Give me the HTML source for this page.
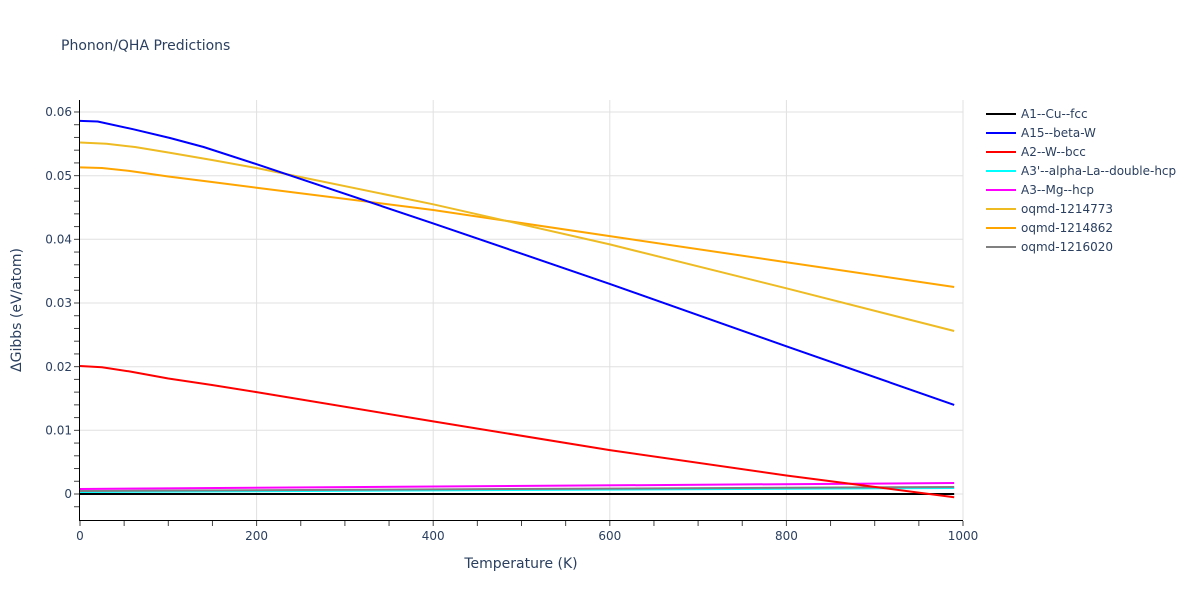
<!DOCTYPE html>
<html><head><meta charset="utf-8"><style>
body{margin:0;background:#fff;}
svg{font-family:"DejaVu Sans",sans-serif;}
</style></head><body>
<svg width="1200" height="600" xmlns="http://www.w3.org/2000/svg">
<rect width="1200" height="600" fill="#fff"/>
<text x="61" y="50" font-size="14" fill="#2a3f5f">Phonon/QHA Predictions</text>
<g stroke="#e0e0e0" stroke-width="1">
<line x1="256.6" y1="100" x2="256.6" y2="520"/>
<line x1="433.2" y1="100" x2="433.2" y2="520"/>
<line x1="609.8" y1="100" x2="609.8" y2="520"/>
<line x1="786.4" y1="100" x2="786.4" y2="520"/>
<line x1="963" y1="100" x2="963" y2="520"/>
<line x1="80" y1="494" x2="963" y2="494"/>
<line x1="80" y1="430.3" x2="963" y2="430.3"/>
<line x1="80" y1="366.7" x2="963" y2="366.7"/>
<line x1="80" y1="303" x2="963" y2="303"/>
<line x1="80" y1="239.3" x2="963" y2="239.3"/>
<line x1="80" y1="175.7" x2="963" y2="175.7"/>
<line x1="80" y1="112" x2="963" y2="112"/>
</g>
<g fill="none" stroke-width="2" stroke-linejoin="round">
<polyline stroke="#000" points="80,494 954.2,494"/>
<polyline stroke="#00ffff" points="80,492 954.2,488"/>
<polyline stroke="#808080" points="80,491 954.2,487"/>
<polyline stroke="#ff00ff" points="80,489 954.2,483"/>
<polyline stroke="#ff0000" points="80,366 102,367.3 130,371.5 168.3,378.5 212,385 256.6,392.1 433.2,421.4 609.8,450.1 786.4,475.5 954.2,497.2"/>
<polyline stroke="#ffa500" points="80,167.4 102,168 130,171 168.3,176.5 212,182 256.6,187.7 433.2,210 609.8,236.1 786.4,262.2 954.2,287"/>
<polyline stroke="#eebb22" points="80,142.5 106.5,143.8 135,147 168.3,152.5 212,160 256.6,168 433.2,204.3 609.8,244.4 786.4,288.3 954.2,331"/>
<polyline stroke="#0000ff" points="80,120.9 97.7,121.5 133,129.2 170,138 203.6,147 256.6,164.2 433.2,223.4 609.8,283.9 786.4,346.3 954.2,404.9"/>
</g>
<g stroke="#000" stroke-width="1">
<line x1="79.5" y1="100" x2="79.5" y2="520"/>
<line x1="79" y1="520.5" x2="963" y2="520.5"/>
</g>
<g stroke="#444" stroke-width="1" id="yt"></g>
<g stroke="#444" stroke-width="1" id="xt"></g>
<g font-size="12" fill="#2a3f5f" text-anchor="end">
<text x="72" y="498">0</text>
<text x="72" y="434.5">0.01</text>
<text x="72" y="370.8">0.02</text>
<text x="72" y="307.2">0.03</text>
<text x="72" y="243.5">0.04</text>
<text x="72" y="179.8">0.05</text>
<text x="72" y="116.2">0.06</text>
</g>
<g font-size="12" fill="#2a3f5f" text-anchor="middle">
<text x="80" y="540">0</text>
<text x="256.6" y="540">200</text>
<text x="433.2" y="540">400</text>
<text x="609.8" y="540">600</text>
<text x="786.4" y="540">800</text>
<text x="963" y="540">1000</text>
</g>
<text x="521" y="568" font-size="14" fill="#2a3f5f" text-anchor="middle">Temperature (K)</text>
<text transform="translate(21,310) rotate(-90)" font-size="14" fill="#2a3f5f" text-anchor="middle">ΔGibbs (eV/atom)</text>
<g font-size="12" fill="#2a3f5f" stroke-width="2">
<line x1="986" y1="114" x2="1016" y2="114" stroke="#000"/><text x="1021" y="118">A1--Cu--fcc</text>
<line x1="986" y1="133" x2="1016" y2="133" stroke="#0000ff"/><text x="1021" y="137">A15--beta-W</text>
<line x1="986" y1="152" x2="1016" y2="152" stroke="#ff0000"/><text x="1021" y="156">A2--W--bcc</text>
<line x1="986" y1="171" x2="1016" y2="171" stroke="#00ffff"/><text x="1021" y="175">A3'--alpha-La--double-hcp</text>
<line x1="986" y1="190" x2="1016" y2="190" stroke="#ff00ff"/><text x="1021" y="194">A3--Mg--hcp</text>
<line x1="986" y1="209" x2="1016" y2="209" stroke="#eebb22"/><text x="1021" y="213">oqmd-1214773</text>
<line x1="986" y1="228" x2="1016" y2="228" stroke="#ffa500"/><text x="1021" y="232">oqmd-1214862</text>
<line x1="986" y1="247" x2="1016" y2="247" stroke="#808080"/><text x="1021" y="251">oqmd-1216020</text>
</g>
<script>
var ns="http://www.w3.org/2000/svg";
var yt=document.getElementById('yt');
for(var v=-0.002;v<=0.0601;v+=0.002){var y=494-v*6367;var l=document.createElementNS(ns,'line');l.setAttribute('x1',74);l.setAttribute('x2',79);l.setAttribute('y1',y);l.setAttribute('y2',y);yt.appendChild(l);}
var xt=document.getElementById('xt');
for(var t=0;t<=1000;t+=50){var x=80+t*0.883;var l=document.createElementNS(ns,'line');l.setAttribute('x1',x);l.setAttribute('x2',x);l.setAttribute('y1',521);l.setAttribute('y2',526);xt.appendChild(l);}
</script>
</svg>
</body></html>
